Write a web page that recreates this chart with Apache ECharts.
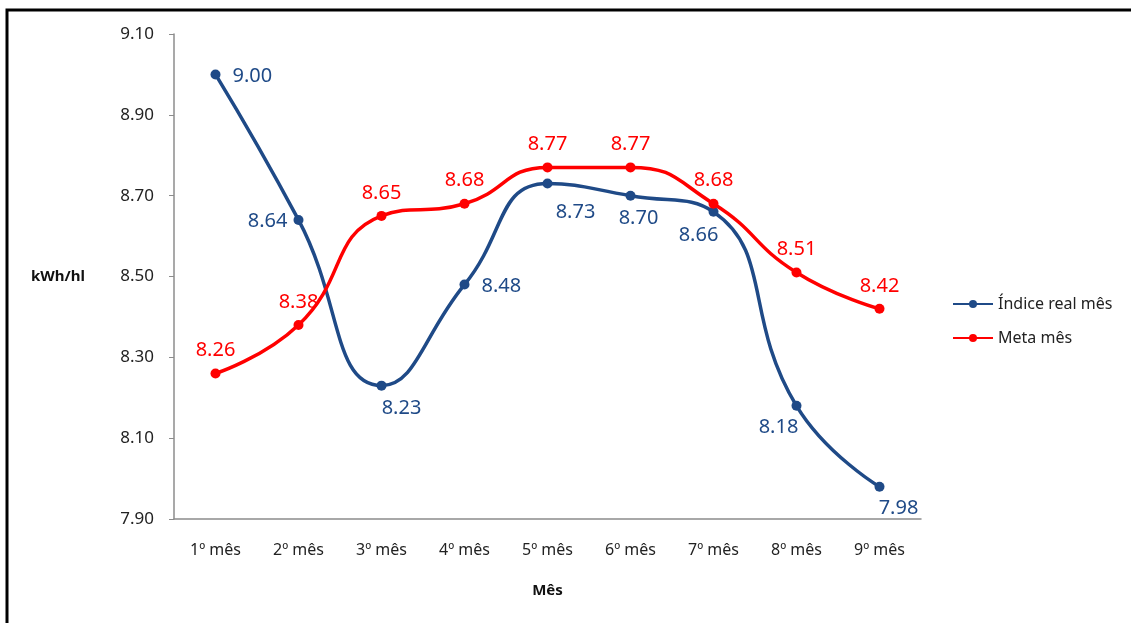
<!DOCTYPE html>
<html lang="pt">
<head>
    <meta charset="UTF-8">
    <title>kWh/hl por mês</title>
    <script src="https://cdn.jsdelivr.net/npm/echarts@6/dist/echarts.min.js"></script>
    <style>
        html, body { margin: 0; padding: 0; background: #fff; }
        #chart { width: 1131px; height: 623px; }
    </style>
</head>
<body>
    <div id="chart"></div>
    <script>
        // dados
        var meses = ['1º mês', '2º mês', '3º mês', '4º mês', '5º mês', '6º mês', '7º mês', '8º mês', '9º mês'];
        var indiceReal = [9.00, 8.64, 8.23, 8.48, 8.73, 8.70, 8.66, 8.18, 7.98];
        var metaMes = [8.26, 8.38, 8.65, 8.68, 8.77, 8.77, 8.68, 8.51, 8.42];

        var AZUL = '#1F4A87';
        var VERMELHO = '#FF0000';
        var FONTE = '"Noto Sans", sans-serif';

        // posição dos rótulos da série azul (como no original)
        var rotAzul = [
            { position: 'right', distance: 12, offset: [0, 2] },
            { position: 'left', offset: [2, 1] },
            { position: 'bottom', offset: [20, 0] },
            { position: 'right', distance: 12, offset: [0, 2] },
            { position: 'bottom', offset: [28, 6] },
            { position: 'bottom', offset: [8, 0] },
            { position: 'bottom', offset: [-15, 0] },
            { position: 'bottom', offset: [-18, -2] },
            { position: 'bottom', offset: [19, -1] }
        ];

        var chart = echarts.init(document.getElementById('chart'));

        var option = {
            animation: false,
            textStyle: { fontFamily: FONTE },
            graphic: [{
                type: 'rect',
                shape: { x: 7, y: 10, width: 1300, height: 800 },
                style: { fill: 'none', stroke: '#000', lineWidth: 3 },
                silent: true
            }],
            grid: { left: 174, top: 34, right: 210, bottom: 104 },
            legend: {
                orient: 'vertical',
                left: 947,
                top: 291,
                itemWidth: 40,
                itemHeight: 10,
                itemGap: 18,
                textStyle: { fontFamily: FONTE, fontSize: 16, color: '#222' },
                data: ['Índice real mês', 'Meta mês']
            },
            xAxis: {
                type: 'category',
                data: meses,
                name: 'Mês',
                nameLocation: 'middle',
                nameGap: 64,
                nameTextStyle: { fontFamily: FONTE, fontSize: 15, fontWeight: 'bold', color: '#111' },
                axisLine: { lineStyle: { color: '#8c8c8c', width: 1.5 } },
                axisTick: { length: 6, lineStyle: { color: '#8c8c8c' } },
                axisLabel: { margin: 23, fontSize: 16, color: '#222' },
                splitLine: { show: false }
            },
            yAxis: {
                type: 'value',
                min: 7.9,
                max: 9.1,
                interval: 0.2,
                name: 'kWh/hl',
                nameLocation: 'middle',
                nameRotate: 0,
                nameGap: 89,
                nameTextStyle: { fontFamily: FONTE, fontSize: 15, fontWeight: 'bold', color: '#111' },
                axisLine: { show: true, lineStyle: { color: '#8c8c8c', width: 1.5 } },
                axisTick: { show: true, length: 5, lineStyle: { color: '#8c8c8c' } },
                axisLabel: {
                    margin: 20, fontSize: 17, color: '#222',
                    formatter: function (v) { return v.toFixed(2); }
                },
                splitLine: { show: false }
            },
            series: [
                {
                    name: 'Índice real mês',
                    type: 'line',
                    smooth: 0.5,
                    symbol: 'circle',
                    symbolSize: 10,
                    lineStyle: { color: AZUL, width: 3.5 },
                    itemStyle: { color: AZUL },
                    label: {
                        show: true, distance: 8, fontSize: 20, color: AZUL,
                        formatter: function (p) { return p.value.toFixed(2); }
                    },
                    data: indiceReal.map(function (v, i) {
                        return { value: v, label: rotAzul[i] };
                    }),
                    z: 3
                },
                {
                    name: 'Meta mês',
                    type: 'line',
                    smooth: 0.5,
                    symbol: 'circle',
                    symbolSize: 10,
                    lineStyle: { color: VERMELHO, width: 3.5 },
                    itemStyle: { color: VERMELHO },
                    label: {
                        show: true, position: 'top', distance: 8, fontSize: 20, color: VERMELHO,
                        formatter: function (p) { return p.value.toFixed(2); }
                    },
                    data: metaMes,
                    z: 4
                }
            ]
        };

        chart.setOption(option);
    </script>
</body>
</html>
